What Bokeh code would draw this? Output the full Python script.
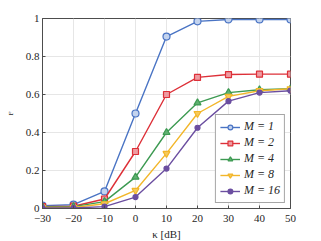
from bokeh.plotting import figure
from bokeh.models import FixedTicker, Range1d, Legend, LegendItem
from bokeh.embed import file_html
from bokeh.resources import INLINE

kappa = [-30, -20, -10, 0, 10, 20, 30, 40, 50]
m1 = [0.015, 0.02, 0.09, 0.50, 0.905, 0.985, 0.995, 0.995, 0.995]
m2 = [0.010, 0.012, 0.05, 0.30, 0.60, 0.69, 0.705, 0.707, 0.707]
m4 = [0.008, 0.010, 0.036, 0.165, 0.40, 0.556, 0.61, 0.625, 0.63]
m8 = [0.005, 0.005, 0.025, 0.095, 0.29, 0.50, 0.59, 0.62, 0.63]
m16 = [0.003, 0.003, 0.010, 0.06, 0.21, 0.425, 0.565, 0.61, 0.62]
labels = ["M = 1", "M = 2", "M = 4", "M = 8", "M = 16"]
xticks = [-30, -20, -10, 0, 10, 20, 30, 40, 50]
yticks = [0, 0.2, 0.4, 0.6, 0.8, 1.0]
ytick_labels = {0: "0", 0.2: "0.2", 0.4: "0.4", 0.6: "0.6", 0.8: "0.8", 1.0: "1"}

FONT = "Liberation Serif"

p = figure(width=313, height=233, output_backend="svg", toolbar_location=None,
           x_range=Range1d(-30, 50), y_range=Range1d(0, 1),
           min_border_left=42, min_border_right=23, min_border_top=18, min_border_bottom=25)
p.frame_width = 248
p.frame_height = 190
p.background_fill_color = "white"
p.border_fill_color = "white"
p.outline_line_color = "#4d4d4d"
p.outline_line_width = 1

for ax in (p.xaxis[0], p.yaxis[0]):
    ax.axis_line_color = "#4d4d4d"
    ax.major_tick_line_color = "#4d4d4d"
    ax.major_tick_in = 3
    ax.major_tick_out = 0
    ax.minor_tick_line_color = None
    ax.major_label_text_font = FONT
    ax.major_label_text_font_size = "11px"
    ax.major_label_text_color = "#262626"
    ax.axis_label_text_font = FONT
    ax.axis_label_text_color = "#262626"
    ax.axis_label_text_font_style = "normal"

p.xaxis.ticker = FixedTicker(ticks=xticks)
p.yaxis.ticker = FixedTicker(ticks=yticks)
p.yaxis.major_label_overrides = ytick_labels
p.xaxis.axis_label = "κ [dB]"
p.xaxis.axis_label_text_font_size = "11px"
p.xaxis.axis_label_standoff = 3
p.xaxis.major_label_standoff = 6
p.yaxis.axis_label = "F"
p.yaxis.axis_label_text_font_size = "7px"
p.yaxis.axis_label_standoff = 8
p.yaxis.major_label_standoff = 3

p.xgrid.grid_line_color = "#e6e6e6"
p.ygrid.grid_line_color = "#e6e6e6"
p.xgrid.ticker = FixedTicker(ticks=xticks)
p.ygrid.ticker = FixedTicker(ticks=yticks)

items = []
series = [
    (m1, "#4a74c4", "circle", "#c3d3ee", 7),
    (m2, "#dd3038", "square", "#ee9aa0", 6),
    (m4, "#3d9a52", "triangle", "#5fb070", 7),
    (m8, "#f2b62a", "inverted_triangle", "#f6c95a", 7),
    (m16, "#6b4ea0", "circle", "#6b4ea0", 5),
]
for (ys, col, mk, fill, sz), lab in zip(series, labels):
    r1 = p.line(kappa, ys, line_color=col, line_width=1.4)
    r2 = p.scatter(kappa, ys, marker=mk, size=sz, line_color=col, fill_color=fill, line_width=1.2)
    items.append(LegendItem(label=lab, renderers=[r1, r2]))

legend = Legend(items=items, location="bottom_right")
legend.label_text_font = FONT
legend.label_text_font_size = "12px"
legend.label_text_font_style = "italic"
legend.label_text_color = "#262626"
legend.label_height = 12
legend.glyph_height = 12
legend.glyph_width = 20
legend.spacing = 1
legend.padding = 4
legend.margin = 5
legend.label_standoff = 4
legend.border_line_color = "#4d4d4d"
legend.border_line_width = 1
legend.background_fill_alpha = 1
p.add_layout(legend)

open("out.html", "w").write(file_html(p, INLINE))
